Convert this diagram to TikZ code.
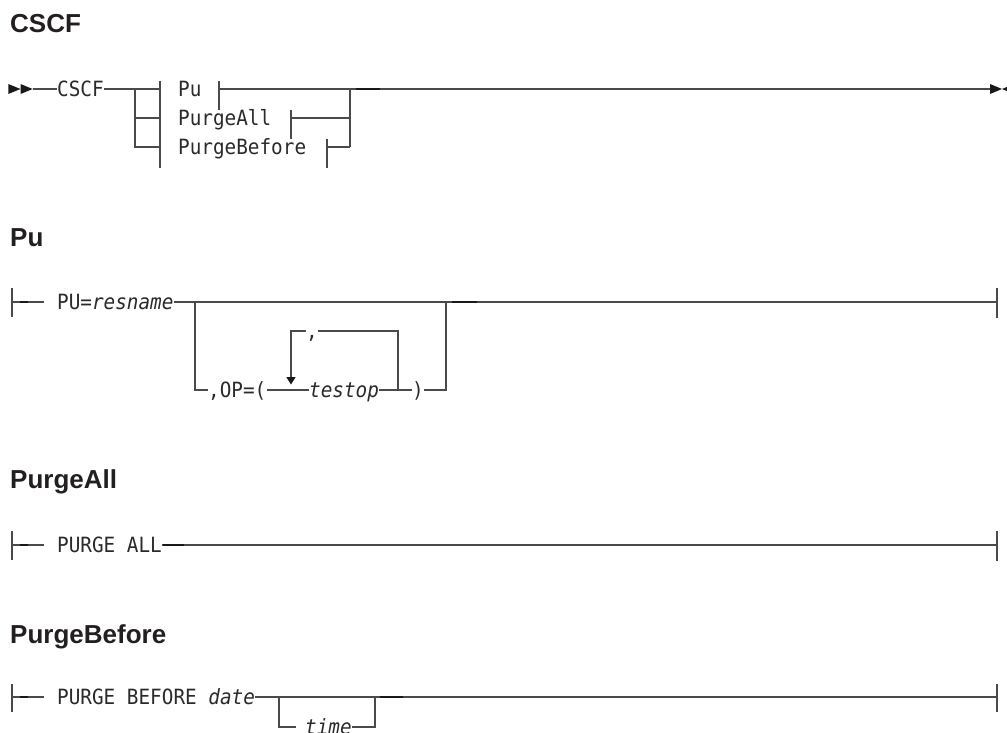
\documentclass[tikz,border=0pt]{standalone}
\usepackage{fontspec}
\newfontfamily\headfont{Liberation Sans}
\newfontfamily\monofont{DejaVu Sans Mono}[FakeStretch=0.92]
\definecolor{lc}{HTML}{4A4A4A}
\definecolor{tc}{HTML}{2A2A2A}
\definecolor{hc}{HTML}{231F20}
\tikzset{
  ln/.style={draw=lc, line width=1.3pt},
  thk/.style={draw=black!90, line width=2.4pt},
  mono/.style={font=\monofont\fontsize{21}{25}\selectfont, text=tc, inner sep=0pt, text height=15.3pt, text depth=0pt, anchor=west},
  head/.style={font=\headfont\bfseries\fontsize{26}{30}\selectfont, text=hc, inner sep=0pt, anchor=base west},
  tipfill/.style={fill=black!90},
}
\begin{document}
\begin{tikzpicture}[x=1pt,y=-1pt]
\useasboundingbox (0,0) rectangle (1007,733);

% ---------------- CSCF ----------------
\node[head] (h1) at (10,33) {CSCF};
\fill[tipfill] (8.3,84) -- (20.5,89) -- (8.3,94) -- cycle;
\fill[tipfill] (20.5,84) -- (32.7,89) -- (20.5,94) -- cycle;
\coordinate (s1) at (32.7,89);
\node[mono] (cscf) at (57,89) {CSCF};
\coordinate (j1a) at (135,89);
\coordinate (j1b) at (135,118);
\coordinate (j1c) at (135,147);
\coordinate (b1a) at (160,89);
\coordinate (b1b) at (160,118);
\coordinate (b1c) at (160,147);
\draw[ln] (s1) -- (cscf.west);
\draw[ln] (cscf.east) -- (j1a) -- (b1a);
\draw[ln] (j1a) -- (j1c) -- (b1c);
\draw[ln] (j1b) -- (b1b);
\draw[ln] (160,81) -- (160,168);
\node[mono] (pu) at (178,89) {Pu};
\node[mono] (pa) at (178,118) {PurgeAll};
\node[mono] (pb) at (178,147) {PurgeBefore};
\coordinate (r1a) at (219,89);
\coordinate (r1b) at (291,118);
\coordinate (r1c) at (327,147);
\coordinate (k1a) at (350,89);
\coordinate (k1b) at (350,118);
\coordinate (k1c) at (350,147);
\draw[ln] (219,81) -- (219,110);
\draw[ln] (291,110) -- (291,139);
\draw[ln] (327,139) -- (327,168);
\draw[ln] (r1a) -- (k1a);
\draw[ln] (r1b) -- (k1b);
\draw[ln] (r1c) -- (k1c);
\draw[ln] (k1a) -- (k1c);
\coordinate (e1) at (990,89);
\draw[ln] (k1a) -- (e1);
\draw[thk] (356,89) -- (380,89);
\fill[tipfill] (990,84) -- (1002,89) -- (990,94) -- cycle;
\fill[tipfill] (1002,89) -- (1014,84) -- (1014,94) -- cycle;

% ---------------- Pu ----------------
\node[head] (h2) at (10,246) {Pu};
\coordinate (s2) at (12,302);
\coordinate (s2b) at (44,302);
\draw[ln] (12,288) -- (12,317);
\draw[ln] (s2) -- (s2b);
\draw[thk] (20,302) -- (28,302);
\node[mono] (pun) at (57,302) {PU=\textit{resname}};
\coordinate (e2) at (997,302);
\draw[ln] (pun.east) -- (e2);
\draw[ln] (997,288) -- (997,318);
\coordinate (ba) at (195,302);
\coordinate (bb) at (195,390);
\node[mono] (op) at (208,390) {,OP=(};
\node[mono] (tst) at (309,390) {\textit{testop}};
\node[mono] (cls) at (412,390) {)};
\coordinate (bc) at (446,390);
\coordinate (bd) at (446,302);
\draw[ln] (ba) -- (bb) -- (op.west);
\draw[ln] (op.east) -- (tst.west);
\draw[ln] (tst.east) -- (cls.west);
\draw[ln] (cls.east) -- (bc) -- (bd);
\node[mono] (cm) at (306,331) {,};
\coordinate (la) at (398,390);
\coordinate (lb) at (398,331);
\coordinate (lc1) at (291,331);
\coordinate (ld) at (291,377);
\draw[ln] (la) -- (lb) -- (cm.east);
\draw[ln] (cm.west) -- (lc1) -- (ld);
\fill[tipfill] (286.3,377) -- (295.7,377) -- (291,384.5) -- cycle;
\draw[thk] (452,302) -- (477,302);

% ---------------- PurgeAll ----------------
\node[head] (h3) at (10,488) {PurgeAll};
\coordinate (s3) at (12,545);
\coordinate (s3b) at (44,545);
\draw[ln] (12,531) -- (12,560);
\draw[ln] (s3) -- (s3b);
\draw[thk] (20,545) -- (28,545);
\node[mono] (pal) at (57,545) {PURGE ALL};
\coordinate (e3) at (997,545);
\draw[ln] (pal.east) -- (e3);
\draw[ln] (997,531) -- (997,561);
\draw[thk] ([xshift=1pt]pal.east) -- ([xshift=22pt]pal.east);

% ---------------- PurgeBefore ----------------
\node[head] (h4) at (10,643) {PurgeBefore};
\coordinate (s4) at (12,697);
\coordinate (s4b) at (44,697);
\draw[ln] (12,684) -- (12,712);
\draw[ln] (s4) -- (s4b);
\draw[thk] (20,697) -- (28,697);
\node[mono] (pbd) at (57,697) {PURGE BEFORE \textit{date}};
\coordinate (e4) at (997,697);
\draw[ln] (pbd.east) -- (e4);
\draw[ln] (997,684) -- (997,712);
\coordinate (ta) at (279,697);
\coordinate (tb) at (279,727);
\coordinate (tc1) at (296,727);
\node[mono] (tim) at (305,727) {\textit{time}};
\coordinate (td) at (375,727);
\coordinate (te) at (375,697);
\draw[ln] (ta) -- (tb) -- (tc1);
\draw[ln] (tim.east) -- (td) -- (te);
\draw[thk] (380,697) -- (403,697);
\end{tikzpicture}
\end{document}
